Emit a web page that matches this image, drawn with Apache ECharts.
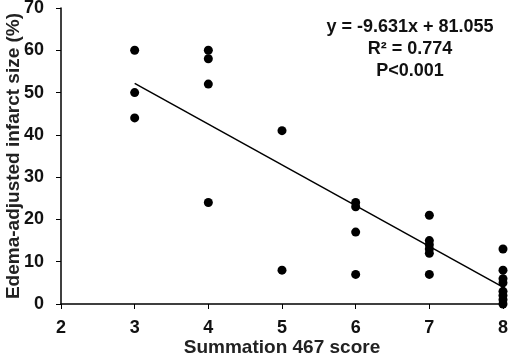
<!DOCTYPE html>
<html>
<head>
<meta charset="utf-8">
<script src="https://cdn.jsdelivr.net/npm/echarts@6/dist/echarts.min.js"></script>
<style>
html, body { margin: 0; padding: 0; background: #fff; }
#chart { width: 510px; height: 360px; }
</style>
</head>
<body>
<div id="chart"></div>
<script>
// scatter values, one list per score column
var score3 = [60, 50, 44];
var score4 = [60, 58, 52, 24];
var score5 = [41, 8];
var score6 = [24, 23, 17, 7];
var score7 = [21, 15, 14, 13, 12, 7];
var score8 = [13, 8, 6, 5, 3, 2, 1, 0];
var scores = [3, 4, 5, 6, 7, 8];
var columns = [score3, score4, score5, score6, score7, score8];

// trend line ends (y = -9.631x + 81.055)
var trendLine = [[3, 52.16], [8, 4.01]];
var equationLines = ['y = -9.631x + 81.055', 'R² = 0.774', 'P<0.001'];

var points = [];
for (var i = 0; i < scores.length; i++) {
    for (var j = 0; j < columns[i].length; j++) {
        points.push([scores[i], columns[i][j]]);
    }
}

var font = 'Liberation Sans, Arial, sans-serif';
var myChart = echarts.init(document.getElementById('chart'));
var option = {
    backgroundColor: '#fff',
    animation: false,
    grid: {
        left: 61,
        right: 7,
        top: 8,
        bottom: 56,
        containLabel: false,
        outerBoundsMode: 'none'
    },
    xAxis: {
        type: 'value',
        min: 2,
        max: 8,
        interval: 1,
        name: 'Summation 467 score',
        nameLocation: 'middle',
        nameGap: 34,
        nameMoveOverlap: false,
        nameTextStyle: { color: '#222', fontSize: 19, fontWeight: 'bold', fontFamily: font },
        axisLine: { lineStyle: { color: '#000', width: 1.5 } },
        axisTick: { show: true, length: 5, lineStyle: { color: '#000' } },
        axisLabel: { color: '#111', fontSize: 18, fontWeight: 'bold', fontFamily: font, margin: 15 },
        splitLine: { show: false }
    },
    yAxis: {
        type: 'value',
        min: 0,
        max: 70,
        interval: 10,
        name: 'Edema-adjusted infarct size (%)',
        nameLocation: 'middle',
        nameGap: 38,
        nameMoveOverlap: false,
        nameTextStyle: { color: '#222', fontSize: 19, fontWeight: 'bold', fontFamily: font },
        axisLine: { show: true, lineStyle: { color: '#000', width: 1.5 } },
        axisTick: { show: true, length: 5, lineStyle: { color: '#000' } },
        axisLabel: { color: '#111', fontSize: 18, fontWeight: 'bold', fontFamily: font, margin: 17 },
        splitLine: { show: false }
    },
    graphic: [{
        type: 'text',
        x: 410,
        y: 16,
        style: {
            text: equationLines.join('\n'),
            align: 'center',
            verticalAlign: 'top',
            fill: '#111',
            font: 'bold 18px ' + font,
            lineHeight: 22
        }
    }],
    series: [{
        type: 'line',
        name: 'trend',
        data: trendLine,
        showSymbol: false,
        lineStyle: { color: '#000', width: 1.5 },
        z: 1
    }, {
        type: 'scatter',
        name: 'points',
        data: points,
        symbolSize: 9,
        itemStyle: { color: '#000', opacity: 1 },
        z: 2
    }]
};
myChart.setOption(option);
</script>
</body>
</html>
